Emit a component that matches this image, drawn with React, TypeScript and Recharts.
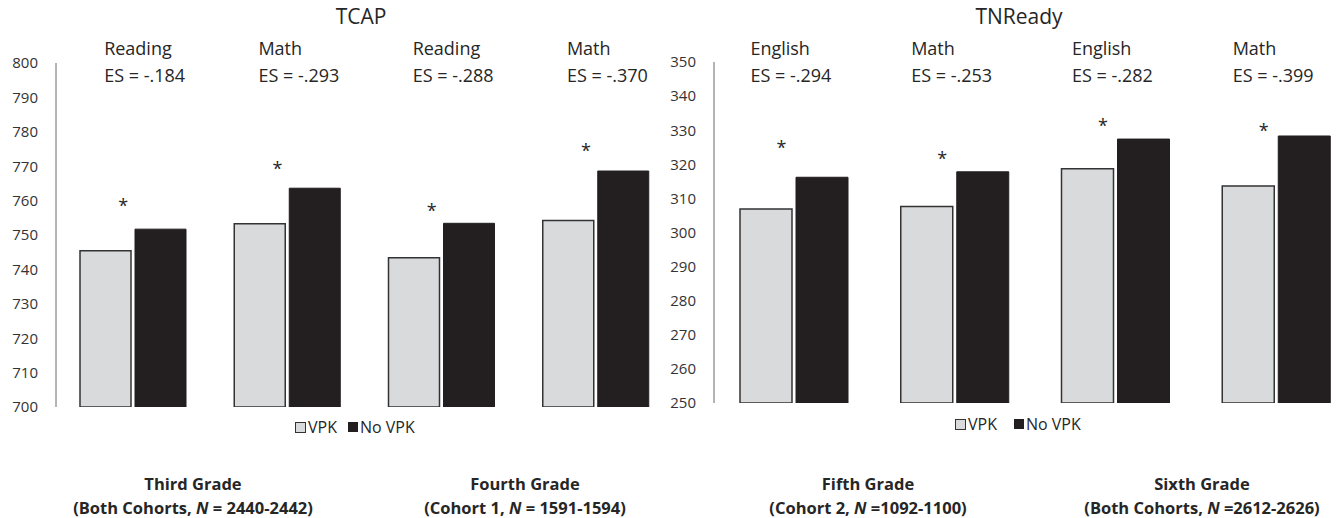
import React from 'react';
import { ComposedChart, Bar, Line, XAxis, YAxis } from 'recharts';

// TCAP panel (third and fourth grade)
const tcapSubjects = ['Reading', 'Math', 'Reading', 'Math'];
const tcapEffects = ['ES = -.184', 'ES = -.293', 'ES = -.288', 'ES = -.370'];
const tcapVpk = [745.4, 753.3, 743.4, 754.2];
const tcapNoVpk = [751.7, 763.6, 753.4, 768.6];
const tcapStar = [759.6, 770.3, 758.1, 775.6];
const tcapTicks = [700, 710, 720, 730, 740, 750, 760, 770, 780, 790, 800];

// TNReady panel (fifth and sixth grade)
const tnSubjects = ['English', 'Math', 'English', 'Math'];
const tnEffects = ['ES = -.294', 'ES = -.253', 'ES = -.282', 'ES = -.399'];
const tnVpk = [306.9, 307.6, 318.7, 313.6];
const tnNoVpk = [316.2, 317.8, 327.4, 328.3];
const tnStar = [326.0, 322.7, 332.4, 330.8];
const tnTicks = [250, 260, 270, 280, 290, 300, 310, 320, 330, 340, 350];

const gradeNames = ['Third Grade', 'Fourth Grade', 'Fifth Grade', 'Sixth Grade'];
const gradeCohorts = ['Both Cohorts, ', 'Cohort 1, ', 'Cohort 2, ', 'Both Cohorts, '];
const gradeN = [' = 2440-2442', ' = 1591-1594', ' =1092-1100', ' =2612-2626'];
const gradeCenters = [193, 525, 868, 1202];

const FONT = '"Open Sans", sans-serif';
const TEXT = '#262626';
const LIGHT = '#d9dadc';
const DARK = '#231f20';

type PanelProps = {
  title: string;
  subjects: string[];
  effects: string[];
  vpk: number[];
  noVpk: number[];
  star: number[];
  ticks: number[];
  left: number;
  width: number;
  rightMargin: number;
  bottomMargin: number;
  topHeight: number;
  barSize: number;
  labelShift: number;
  starShift: number;
  titleX: number;
  legendX: number;
  legendY: number;
  legendGap: number;
};

function Panel(p: PanelProps) {
  const data = p.subjects.map((s, i) => ({
    cat: `${s}-${i}`,
    vpk: p.vpk[i],
    noVpk: p.noVpk[i],
    star: p.star[i],
  }));

  const TopTick = (props: any) => {
    const { x, index } = props;
    return (
      <g>
        <text x={x + p.labelShift} y={55} fontSize={18} fill={TEXT} fontFamily={FONT}>
          {p.subjects[index]}
        </text>
        <text x={x + p.labelShift} y={82} fontSize={18} fill={TEXT} fontFamily={FONT}>
          {p.effects[index]}
        </text>
      </g>
    );
  };

  return (
    <>
      <div
        style={{
          position: 'absolute',
          left: p.titleX - 100,
          top: 2,
          width: 200,
          textAlign: 'center',
          fontSize: 21,
          color: TEXT,
        }}
      >
        {p.title}
      </div>
      <div style={{ position: 'absolute', left: p.left, top: 0 }}>
        <ComposedChart
          width={p.width}
          height={440}
          data={data}
          margin={{ top: 0, right: p.rightMargin, bottom: p.bottomMargin, left: 0 }}
          barGap={4}
        >
          <XAxis
            dataKey="cat"
            orientation="top"
            height={p.topHeight}
            axisLine={false}
            tickLine={false}
            tick={<TopTick />}
            interval={0}
          />
          <YAxis
            width={56}
            domain={[p.ticks[0], p.ticks[p.ticks.length - 1]]}
            ticks={p.ticks}
            allowDataOverflow
            tickLine={false}
            tickSize={6}
            tickMargin={12}
            axisLine={{ stroke: '#6b6b6b', strokeWidth: 1 }}
            tick={{ fontSize: 15, fill: '#333', fontFamily: FONT }}
          />
          <Bar
            dataKey="vpk"
            name="VPK"
            fill={LIGHT}
            stroke="#333"
            strokeWidth={1.5}
            barSize={p.barSize}
            isAnimationActive={false}
          />
          <Bar
            dataKey="noVpk"
            name="No VPK"
            fill={DARK}
            stroke={DARK}
            strokeWidth={1}
            barSize={p.barSize}
            isAnimationActive={false}
          />
          <Line
            dataKey="star"
            stroke="none"
            legendType="none"
            activeDot={false}
            isAnimationActive={false}
            dot={(d: any) => (
              <text
                key={`star-${d.index}`}
                x={d.cx + p.starShift}
                y={d.cy + 10}
                textAnchor="middle"
                fontSize={18}
                fill={TEXT}
                fontFamily={FONT}
              >
                *
              </text>
            )}
          />
        </ComposedChart>
      </div>
      <div
        style={{
          position: 'absolute',
          left: p.legendX,
          top: p.legendY - 12,
          display: 'flex',
          alignItems: 'center',
          fontSize: 16,
          color: TEXT,
          whiteSpace: 'nowrap',
        }}
      >
        <span
          style={{
            width: 9,
            height: 9,
            background: LIGHT,
            border: '1px solid #333',
            display: 'inline-block',
            marginRight: 2,
          }}
        />
        <span>VPK</span>
        <span
          style={{
            width: 10,
            height: 10,
            background: DARK,
            display: 'inline-block',
            marginLeft: p.legendGap,
            marginRight: 2,
          }}
        />
        <span>No VPK</span>
      </div>
    </>
  );
}

export default function App() {
  const gradeStyle = (i: number, top: number): React.CSSProperties => ({
    position: 'absolute',
    left: gradeCenters[i] - 200,
    top,
    width: 400,
    height: 20,
    textAlign: 'center',
    fontSize: 16.5,
    fontWeight: 700,
    lineHeight: '20px',
    color: TEXT,
    whiteSpace: 'nowrap',
  });

  return (
    <div
      style={{
        position: 'absolute',
        left: 0,
        top: 0,
        width: 1337,
        height: 518,
        overflow: 'hidden',
        background: '#fff',
        fontFamily: FONT,
      }}
    >
      <Panel
        title="TCAP"
        subjects={tcapSubjects}
        effects={tcapEffects}
        vpk={tcapVpk}
        noVpk={tcapNoVpk}
        star={tcapStar}
        ticks={tcapTicks}
        left={0}
        width={700}
        rightMargin={27}
        bottomMargin={33}
        topHeight={63}
        barSize={51}
        labelShift={-29}
        starShift={-10}
        titleX={361}
        legendX={295}
        legendY={428}
        legendGap={11}
      />
      <Panel
        title="TNReady"
        subjects={tnSubjects}
        effects={tnEffects}
        vpk={tnVpk}
        noVpk={tnNoVpk}
        star={tnStar}
        ticks={tnTicks}
        left={658}
        width={709}
        rightMargin={10}
        bottomMargin={37}
        topHeight={62}
        barSize={52}
        labelShift={-44}
        starShift={-13}
        titleX={1019}
        legendX={955}
        legendY={425}
        legendGap={17}
      />
      {gradeNames.map((g, i) => (
        <React.Fragment key={g}>
          <div style={gradeStyle(i, 474)}>{g}</div>
          <div style={gradeStyle(i, 498)}>
            ({gradeCohorts[i]}
            <i>N</i>
            {gradeN[i]})
          </div>
        </React.Fragment>
      ))}
    </div>
  );
}
